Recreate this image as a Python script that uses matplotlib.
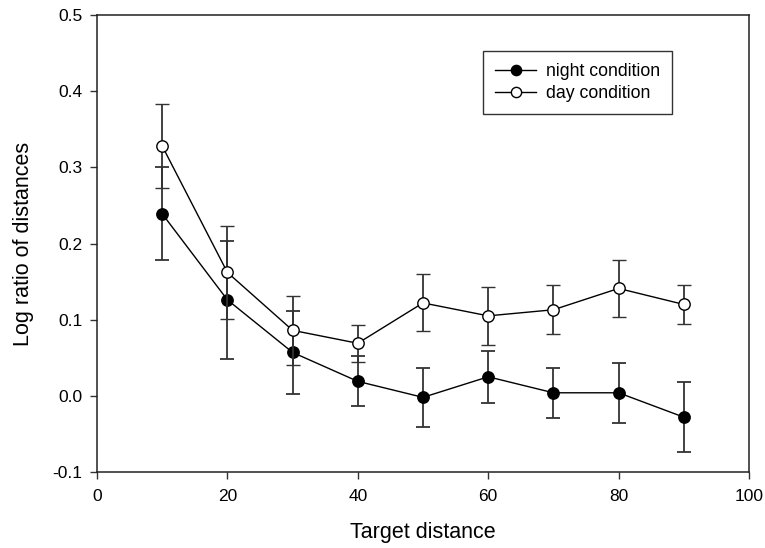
import numpy as np
from matplotlib import pyplot as plt

plt.rcParams["font.family"] = ["Liberation Sans", "DejaVu Sans"]
plt.rcParams["axes.unicode_minus"] = False

DISTANCE = [10, 20, 30, 40, 50, 60, 70, 80, 90]
NIGHT_MEAN = [0.239, 0.126, 0.057, 0.019, -0.002, 0.025, 0.004, 0.004, -0.028]
NIGHT_ERR = [0.061, 0.077, 0.054, 0.033, 0.039, 0.034, 0.0325, 0.0395, 0.046]
DAY_MEAN = [0.328, 0.162, 0.086, 0.069, 0.122, 0.105, 0.113, 0.141, 0.120]
DAY_ERR = [0.055, 0.061, 0.045, 0.0245, 0.0375, 0.038, 0.032, 0.0375, 0.026]

X_TICKS = [0, 20, 40, 60, 80, 100]
Y_TICKS = [-0.1, 0.0, 0.1, 0.2, 0.3, 0.4, 0.5]


def main() -> int:
    fig = plt.figure(figsize=(7.65, 5.48), dpi=100)
    ax = fig.add_axes([97 / 765, 76 / 548, 652 / 765, 457 / 548])

    night = ax.errorbar(DISTANCE, NIGHT_MEAN, yerr=NIGHT_ERR, color="black",
                        ecolor="#333333", elinewidth=1.3, capsize=5, capthick=1.3,
                        marker="o", markersize=8.2, markerfacecolor="black",
                        markeredgecolor="black", linewidth=1.0, zorder=2)
    day = ax.errorbar(DISTANCE, DAY_MEAN, yerr=DAY_ERR, color="black",
                      ecolor="#333333", elinewidth=1.3, capsize=5, capthick=1.3,
                      marker="o", markersize=8.2, markerfacecolor="white",
                      markeredgecolor="black", markeredgewidth=1.0, linewidth=1.0,
                      zorder=3)

    ax.set_xlim(0, 100)
    ax.set_ylim(-0.1, 0.5)
    ax.set_xticks(X_TICKS)
    ax.set_yticks(Y_TICKS)
    ax.set_yticklabels([f"{v:.1f}" for v in Y_TICKS])
    ax.tick_params(direction="out", length=5, width=1, labelsize=12.5,
                   color="#333333")
    ax.tick_params(axis="y", pad=5.5)
    ax.tick_params(axis="x", pad=7)
    for s in ax.spines.values():
        s.set_linewidth(1.1)
        s.set_color("#222222")

    ax.set_xlabel("Target distance", fontsize=15.5, labelpad=13)
    ax.set_ylabel("Log ratio of distances", fontsize=15.5, labelpad=13)

    leg = ax.legend(handles=[night[0], day[0]],
                    labels=["night condition", "day condition"],
                    loc="upper left", bbox_to_anchor=(386 / 652, 1 - 36 / 457),
                    borderaxespad=0, fontsize=12.7, frameon=True, fancybox=False,
                    edgecolor="black", handlelength=2.35, handletextpad=0.56,
                    borderpad=0.68, markerscale=0.9, labelspacing=0.3)
    leg.get_frame().set_linewidth(1.0)

    fig.savefig("out.png", dpi=100)
    plt.close(fig)
    return 0


if __name__ == "__main__":
    raise SystemExit(main())
